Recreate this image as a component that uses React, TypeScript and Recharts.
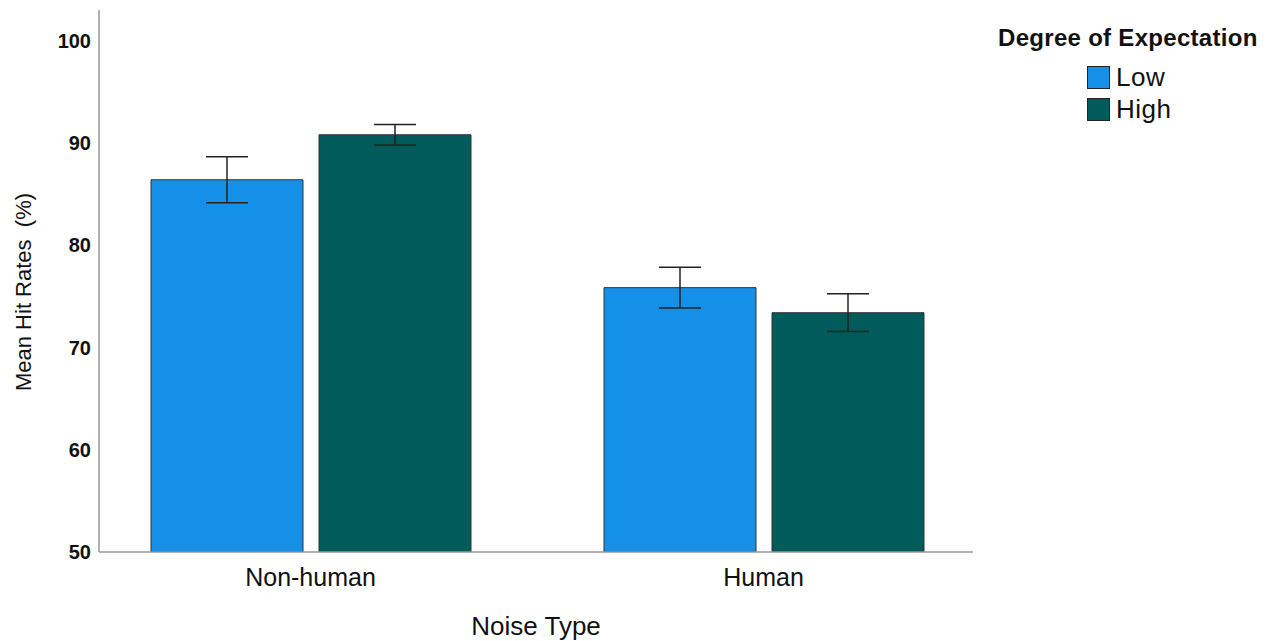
import { Bar, BarChart, ErrorBar, Legend, XAxis, YAxis } from 'recharts';

const noiseTypes = ['Non-human', 'Human'];
const lowMeans = [86.4, 75.85];
const lowErrors = [2.25, 2.0];
const highMeans = [90.8, 73.4];
const highErrors = [1.0, 1.85];
const yTicks = [50, 60, 70, 80, 90, 100];
const legendOrder = ['Low', 'High'];

const data = noiseTypes.map((name, i) => ({
    name,
    low: lowMeans[i],
    lowErr: lowErrors[i],
    high: highMeans[i],
    highErr: highErrors[i],
}));

const FONT = '"Liberation Sans", Arial, sans-serif';

function LegendBox(props: any) {
    const payload = [...(props.payload || [])].sort(
        (a: any, b: any) => legendOrder.indexOf(a.value) - legendOrder.indexOf(b.value)
    );
    return (
        <div style={{ fontFamily: FONT, color: '#111', textAlign: 'left' }}>
            <div style={{ fontSize: 24, fontWeight: 'bold', letterSpacing: 0.3, lineHeight: '28px', marginLeft: 10 }}>
                Degree of Expectation
            </div>
            <div style={{ marginLeft: 99, marginTop: 9 }}>
                {payload.map((p: any) => (
                    <div key={p.value} style={{ display: 'flex', alignItems: 'center', height: 32 }}>
                        <span
                            style={{
                                display: 'inline-block',
                                width: 21,
                                height: 21,
                                background: p.color,
                                border: '1.5px solid #222',
                                marginRight: 6,
                            }}
                        />
                        <span style={{ fontSize: 26, letterSpacing: 0.5 }}>{p.value}</span>
                    </div>
                ))}
            </div>
        </div>
    );
}

function YLabel(props: any) {
    const { viewBox } = props;
    const cx = 23;
    const cy = viewBox.y + viewBox.height / 2 + 11;
    return (
        <text
            x={cx}
            y={cy}
            transform={`rotate(-90, ${cx}, ${cy})`}
            textAnchor="middle"
            dominantBaseline="central"
            fontSize={22}
            fontFamily={FONT}
            fill="#111"
            style={{ whiteSpace: 'pre' }}
        >
            Mean Hit Rates  (%)
        </text>
    );
}

export default function App() {
    return (
        <div style={{ position: 'absolute', left: 0, top: 0, background: '#fff' }}>
            <BarChart
                width={1277}
                height={641}
                data={data}
                margin={{ top: 10, right: 304, bottom: 0, left: 0 }}
                barGap={16}
                barCategoryGap={67}
            >
                <XAxis
                    dataKey="name"
                    height={89}
                    padding={{ left: -15, right: -17 }}
                    stroke="#999"
                    strokeWidth={1.5}
                    tickLine={false}
                    tickMargin={10}
                    tick={{ fill: '#111', fontSize: 25, fontFamily: FONT }}
                    label={{ value: 'Noise Type', position: 'insideBottom', offset: 6, fill: '#111', fontSize: 26, fontFamily: FONT }}
                />
                <YAxis
                    width={99}
                    domain={[50, 103]}
                    ticks={yTicks}
                    allowDataOverflow
                    stroke="#999"
                    strokeWidth={1.5}
                    tickLine={false}
                    tick={{ fill: '#111', fontSize: 20, fontWeight: 'bold', fontFamily: FONT }}
                    label={<YLabel />}
                />
                <Legend
                    layout="vertical"
                    verticalAlign="middle"
                    align="center"
                    content={<LegendBox />}
                    wrapperStyle={{ position: 'absolute', left: 988, top: 24, width: 289 }}
                />
                <Bar dataKey="low" name="Low" fill="#1490e8" stroke="#333" strokeWidth={1} isAnimationActive={false}>
                    <ErrorBar dataKey="lowErr" width={21} stroke="#222" strokeWidth={1.5} isAnimationActive={false} />
                </Bar>
                <Bar dataKey="high" name="High" fill="#005b5a" stroke="#333" strokeWidth={1} isAnimationActive={false}>
                    <ErrorBar dataKey="highErr" width={21} stroke="#222" strokeWidth={1.5} isAnimationActive={false} />
                </Bar>
            </BarChart>
        </div>
    );
}
